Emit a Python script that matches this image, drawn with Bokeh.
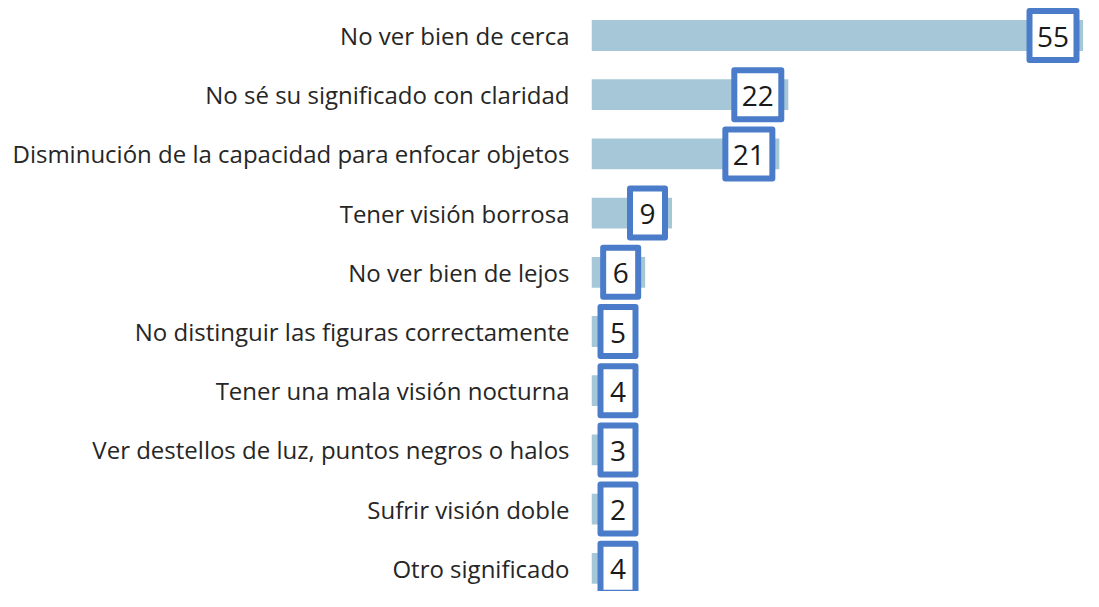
from bokeh.plotting import figure
from bokeh.models import Range1d, FixedTicker, ColumnDataSource
from bokeh.core.properties import value
from bokeh.embed import file_html
from bokeh.resources import INLINE

categories = [
    "No ver bien de cerca",
    "No sé su significado con claridad",
    "Disminución de la capacidad para enfocar objetos",
    "Tener visión borrosa",
    "No ver bien de lejos",
    "No distinguir las figuras correctamente",
    "Tener una mala visión nocturna",
    "Ver destellos de luz, puntos negros o halos",
    "Sufrir visión doble",
    "Otro significado",
]
values = [55, 22, 21, 9, 6, 5, 4, 3, 2, 4]

BAR_COLOR = "#a5c7d7"
BOX_COLOR = "#4a7cc9"
FONT = "Open Sans"

W, H = 1083, 591
LEFT = 591
X_END = 55.0
px_per_unit = (W - LEFT) / X_END

ROW = 59.2
TOP_PAD = 35 / ROW

ypos = list(range(len(categories)))

p = figure(width=W, height=H, output_backend="svg", toolbar_location=None,
           x_range=Range1d(0, X_END),
           y_range=Range1d(-TOP_PAD + H / ROW, -TOP_PAD),
           min_border_left=LEFT, min_border_right=0, min_border_top=0, min_border_bottom=0)

p.hbar(y=ypos, right=values, left=0, height=0.52, color=BAR_COLOR, line_color=None)

# label boxes
box_w = [(53 if v >= 10 else 41) for v in values]
cx = []
for v, bw in zip(values, box_w):
    c_right = v - (4 + bw / 2) / px_per_unit
    c_min = (6 + bw / 2) / px_per_unit
    cx.append(max(c_right, c_min))
src = ColumnDataSource(dict(x=cx, y=ypos, w=[b - 6 for b in box_w], t=[str(v) for v in values]))
p.rect(x="x", y="y", width="w", height=49, width_units="screen", height_units="screen",
       source=src, fill_color="white", line_color=BOX_COLOR, line_width=6, line_join="round")
p.text(x="x", y="y", text="t", source=src, text_align="center", text_baseline="middle",
       text_font=value(FONT), text_font_size="28px", text_color="#1a1a1a", y_offset=1)

p.xaxis.visible = False
p.xgrid.visible = False
p.ygrid.visible = False
p.outline_line_color = None
ax = p.yaxis[0]
ax.ticker = FixedTicker(ticks=ypos)
ax.major_label_overrides = {i: c for i, c in zip(ypos, categories)}
ax.axis_line_color = None
ax.major_tick_line_color = None
ax.minor_tick_line_color = None
ax.major_label_text_font = FONT
ax.major_label_text_font_size = "24px"
ax.major_label_text_color = "#262626"
ax.major_label_standoff = 16

open("out.html", "w").write(file_html(p, INLINE))
